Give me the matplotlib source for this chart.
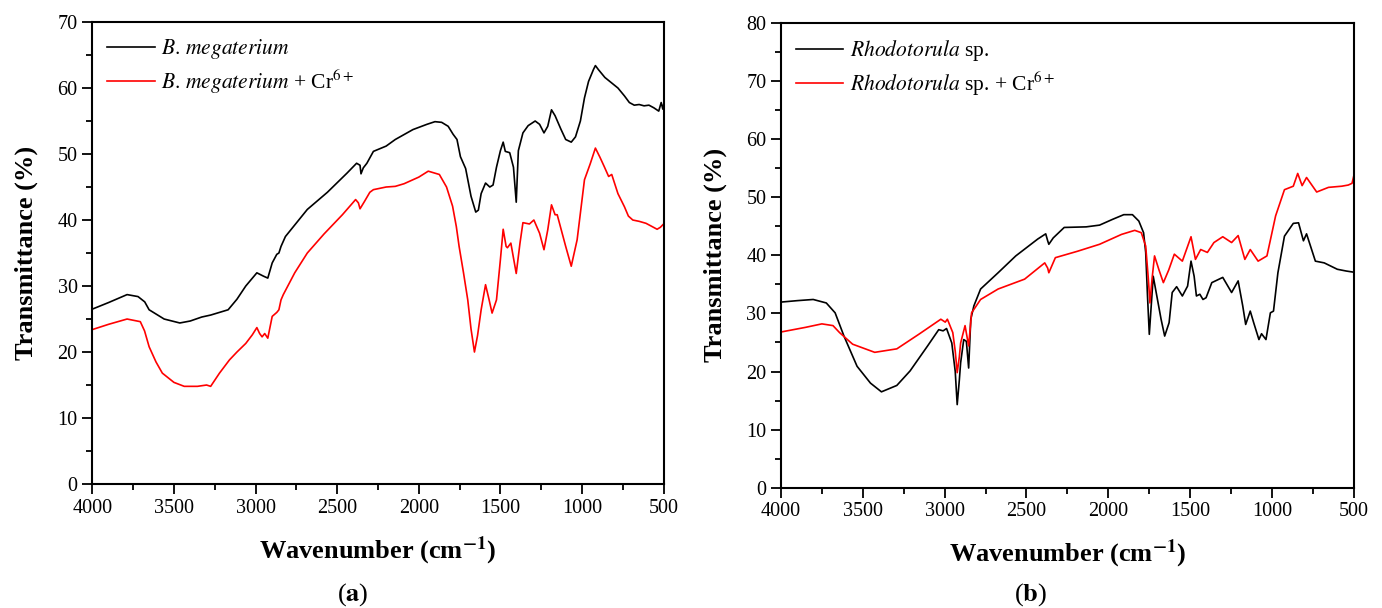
import matplotlib
matplotlib.use("Agg")
import matplotlib.pyplot as plt
import numpy as np
from matplotlib import ticker

plt.rcParams["font.family"] = "Liberation Serif"
plt.rcParams["mathtext.fontset"] = "stix"

# panel (a): B. megaterium
wn_a_black = [4000, 3900, 3787, 3720, 3679, 3652, 3560, 3464, 3400, 3330, 3275, 3168, 3114,
              3060, 2992, 2952, 2925, 2898, 2870, 2857, 2844, 2817, 2683, 2560, 2440,
              2381, 2360, 2354, 2340, 2318, 2278, 2200, 2144, 2036, 1950, 1901, 1860, 1820,
              1790, 1766, 1745, 1713, 1680, 1651, 1635, 1618, 1591, 1565, 1545, 1524, 1500,
              1483, 1470, 1443, 1420, 1403, 1390, 1362, 1330, 1287, 1260, 1233, 1210, 1187,
              1165, 1130, 1100, 1066, 1040, 1010, 985, 960, 930, 918, 900, 860, 820, 780,
              740, 710, 680, 650, 620, 590, 560, 530, 515, 505, 500]
tr_a_black = [26.5, 27.5, 28.7, 28.4, 27.6, 26.4, 25.0, 24.4, 24.7, 25.3, 25.6, 26.4, 28.0,
              30.0, 32.0, 31.5, 31.2, 33.5, 34.8, 35.0, 36.0, 37.5, 41.6, 44.2, 47.1,
              48.6, 48.3, 47.0, 47.9, 48.6, 50.4, 51.2, 52.2, 53.7, 54.5, 54.9, 54.8, 54.2,
              53.0, 52.2, 49.6, 47.8, 43.6, 41.2, 41.5, 44.0, 45.6, 45.0, 45.3, 48.0, 50.5,
              51.8, 50.4, 50.2, 48.0, 42.7, 50.5, 53.2, 54.3, 55.0, 54.5, 53.2, 54.2, 56.7,
              55.8, 53.8, 52.2, 51.8, 52.6, 55.0, 58.5, 61.0, 62.8, 63.4, 62.8, 61.6, 60.8,
              60.0, 58.8, 57.8, 57.4, 57.5, 57.3, 57.4, 57.0, 56.5, 57.8, 56.8, 57.5]

wn_a_red = [4000, 3900, 3787, 3706, 3680, 3652, 3610, 3571, 3500, 3437, 3356, 3300, 3275,
            3221, 3160, 3114, 3060, 3020, 2992, 2975, 2960, 2944, 2925, 2898, 2870, 2857,
            2844, 2830, 2760, 2683, 2580, 2468, 2387, 2370, 2360, 2333, 2300, 2278, 2200,
            2144, 2090, 2000, 1942, 1874, 1830, 1793, 1770, 1753, 1726, 1700, 1680, 1659,
            1640, 1618, 1591, 1570, 1551, 1524, 1500, 1483, 1465, 1457, 1436, 1403, 1380,
            1362, 1322, 1295, 1260, 1233, 1210, 1187, 1165, 1152, 1100, 1066, 1030, 985,
            950, 918, 890, 864, 837, 818, 780, 740, 716, 689, 650, 608, 570, 540, 520, 500]
tr_a_red = [23.4, 24.2, 25.0, 24.6, 23.2, 20.8, 18.5, 16.8, 15.4, 14.8, 14.8, 15.0, 14.8,
            16.8, 18.8, 20.0, 21.3, 22.6, 23.7, 22.8, 22.3, 22.8, 22.1, 25.4, 26.0, 26.4,
            27.9, 28.7, 32.0, 35.0, 37.9, 40.8, 43.1, 42.6, 41.7, 42.8, 44.2, 44.6, 45.0,
            45.1, 45.5, 46.5, 47.4, 46.9, 45.0, 42.1, 39.0, 36.0, 32.0, 27.9, 23.5, 20.0,
            22.5, 26.4, 30.2, 28.0, 25.9, 27.9, 34.0, 38.6, 36.0, 35.8, 36.5, 31.9, 36.5,
            39.6, 39.4, 40.0, 38.0, 35.5, 38.5, 42.3, 40.8, 40.8, 36.0, 33.0, 37.0, 46.1,
            48.5, 50.9, 49.5, 48.1, 46.6, 46.9, 44.0, 42.0, 40.6, 40.0, 39.8, 39.5, 39.0,
            38.6, 38.9, 39.4]

# panel (b): Rhodotorula sp.
wn_b_black = [4000, 3900, 3803, 3723, 3669, 3615, 3535, 3453, 3386, 3292, 3211, 3104, 3036,
              3009, 2988, 2956, 2935, 2923, 2910, 2902, 2883, 2867, 2853, 2840, 2821, 2780,
              2673, 2565, 2431, 2382, 2370, 2363, 2336, 2269, 2135, 2053, 1973, 1905, 1852,
              1813, 1784, 1771, 1760, 1749, 1738, 1725, 1703, 1677, 1655, 1628, 1609, 1582,
              1547, 1515, 1494, 1475, 1461, 1440, 1421, 1402, 1367, 1300, 1246, 1206, 1178,
              1160, 1132, 1111, 1079, 1063, 1036, 1009, 990, 963, 923, 869, 837, 807, 788,
              734, 680, 600, 546, 500]
tr_b_black = [31.95, 32.2, 32.4, 31.8, 30.1, 26.1, 20.9, 18.0, 16.5, 17.6, 20.1, 24.4, 27.2,
              27.0, 27.4, 24.9, 20.0, 14.3, 18.5, 21.5, 25.5, 25.2, 20.6, 29.0, 31.3, 34.2,
              37.0, 39.9, 42.8, 43.7, 42.5, 41.9, 43.0, 44.8, 44.9, 45.2, 46.2, 47.0, 47.0,
              45.9, 43.9, 40.5, 33.0, 26.4, 31.0, 36.4, 33.0, 29.0, 26.1, 28.4, 33.6, 34.6,
              33.0, 34.7, 39.0, 36.4, 33.0, 33.3, 32.4, 32.7, 35.3, 36.2, 33.6, 35.6, 31.3,
              28.1, 30.4, 28.4, 25.5, 26.5, 25.5, 30.1, 30.4, 37.0, 43.3, 45.5, 45.6, 42.5,
              43.7, 39.0, 38.7, 37.6, 37.3, 37.1]

wn_b_red = [4000, 3850, 3750, 3682, 3642, 3562, 3427, 3292, 3158, 3023, 2996, 2983, 2950,
            2935, 2923, 2910, 2902, 2875, 2853, 2835, 2780, 2673, 2511, 2388, 2370, 2363,
            2323, 2188, 2053, 1919, 1838, 1798, 1771, 1755, 1745, 1732, 1717, 1690, 1663,
            1630, 1596, 1547, 1494, 1467, 1435, 1394, 1354, 1300, 1246, 1206, 1165, 1132,
            1084, 1030, 977, 923, 869, 842, 815, 788, 726, 654, 573, 533, 510, 500]
tr_b_red = [26.8, 27.6, 28.2, 27.9, 26.7, 24.7, 23.3, 23.9, 26.4, 29.0, 28.5, 29.0, 26.7,
            23.5, 19.8, 22.5, 24.9, 27.9, 24.4, 30.1, 32.4, 34.2, 35.9, 38.7, 37.8, 37.0,
            39.6, 40.7, 41.9, 43.6, 44.3, 43.9, 41.6, 36.0, 31.8, 36.0, 39.9, 37.5, 35.3,
            37.5, 40.2, 39.0, 43.2, 39.3, 41.0, 40.5, 42.2, 43.2, 42.2, 43.4, 39.3, 41.0,
            39.0, 39.9, 46.8, 51.3, 51.9, 54.1, 52.0, 53.4, 50.9, 51.7, 51.9, 52.1, 52.4, 53.6]

fig = plt.figure(figsize=(13.82, 6.08), dpi=100)
ax_a = fig.add_axes([0.0668, 0.2039, 0.4134, 0.7599])
ax_b = fig.add_axes([0.5651, 0.1979, 0.4144, 0.7643])

panels = [
    (ax_a, wn_a_black, tr_a_black, wn_a_red, tr_a_red, 70,
     r"$\mathit{B.\!\ megaterium}$", r"$\mathit{B.\!\ megaterium}$ + Cr$^{6+}$"),
    (ax_b, wn_b_black, tr_b_black, wn_b_red, tr_b_red, 80,
     r"$\mathit{Rhodotorula}$ sp.", r"$\mathit{Rhodotorula}$ sp. + Cr$^{6+}$"),
]

for ax, xb, yb, xr, yr, ytop, lab_b, lab_r in panels:
    ax.plot(xb, yb, color="black", lw=1.2, label=lab_b)
    ax.plot(xr, yr, color="#ff0000", lw=1.2, label=lab_r)
    ax.set_xlim(4000, 500)
    ax.set_ylim(0, ytop)
    ax.xaxis.set_major_locator(ticker.MultipleLocator(500))
    ax.xaxis.set_minor_locator(ticker.MultipleLocator(250))
    ax.yaxis.set_major_locator(ticker.MultipleLocator(10))
    ax.yaxis.set_minor_locator(ticker.MultipleLocator(5))
    ax.tick_params(which="major", direction="out", length=7, width=1.3, labelsize=14.5)
    ax.tick_params(which="minor", direction="out", length=4, width=1.3)
    for s in ax.spines.values():
        s.set_linewidth(1.5)
    ax.set_xlabel(r"Wavenumber (cm$^{\mathbf{-1}}$)", fontsize=19, fontweight="bold", labelpad=12)
    ax.set_ylabel("Transmittance (%)", fontsize=19, fontweight="bold", labelpad=14)
    ax.legend(loc="upper left", frameon=False, fontsize=15.5, handlelength=2.2,
              handletextpad=0.3, borderaxespad=0.3, labelspacing=0.3)

fig.text(0.2555, 0.012, r"($\mathbf{a}$)", fontsize=19, ha="center")
fig.text(0.7455, 0.012, r"($\mathbf{b}$)", fontsize=19, ha="center")

plt.savefig("out.png", dpi=100)
